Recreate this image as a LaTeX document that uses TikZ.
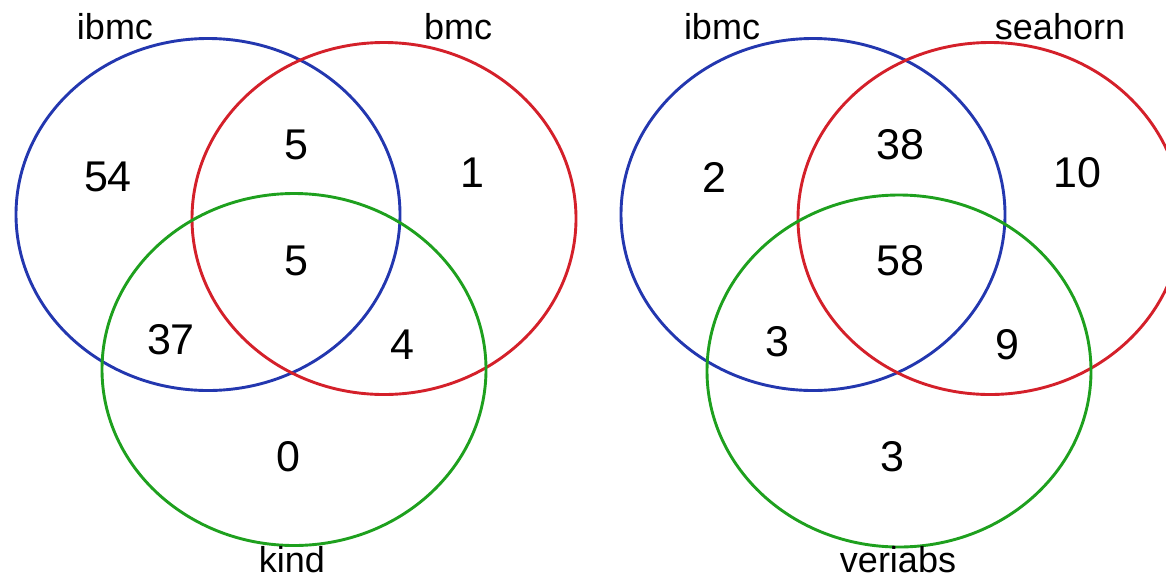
\documentclass[tikz,border=0pt]{standalone}
\usepackage{fontspec}
\setmainfont{Liberation Sans}
\usetikzlibrary{shapes.geometric}
\definecolor{setblue}{RGB}{35,55,175}
\definecolor{setred}{RGB}{212,32,42}
\definecolor{setgreen}{RGB}{30,160,30}
\tikzset{
set/.style={ellipse, draw=#1, line width=2.9pt, inner sep=0pt, outer sep=0pt, minimum width=384pt, minimum height=352pt},
count/.style={inner sep=0pt, font=\fontsize{43}{43}\selectfont},
setname/.style={inner sep=0pt, font=\fontsize{36}{36}\selectfont},
}

\begin{document}
\begin{tikzpicture}[x=1pt, y=-1pt]
%% the page is 1166 x 581, origin in the top left corner
\useasboundingbox (0,0) rectangle (1166,581);

%% ---- ibmc / bmc / kind ----
\begin{scope}
  \node[set=setblue]  (ibmcA) at (208,214.5) {};
  \node[set=setred]   (bmcA)  at (384,218.5) {};
  \node[set=setgreen] (kindA) at (294,369.5) {};
  \node[setname] (ibmcAname) at (115,27)  {ibmc};
  \node[setname] (bmcAname)  at (458,27)  {bmc};
  \node[setname] (kindAname) at (292,560) {kind};
  \node[count] (onlyIA) at (108,177) {54};
  \node[count] (ibA)    at (296,145) {5};
  \node[count] (onlyBA) at (472,173) {1};
  \node[count] (allA)   at (296,261) {5};
  \node[count] (ikA)    at (171,340) {37};
  \node[count] (bkA)    at (402,345) {4};
  \node[count] (onlyKA) at (288,457) {0};
\end{scope}

%% ---- ibmc / seahorn / veriabs ----
\begin{scope}[xshift=605pt]
  \node[set=setblue]  (ibmcB)    at (208,214.5) {};
  \node[set=setred]   (seahornB) at (385,218.5) {};
  \node[set=setgreen] (veriabsB) at (294,371) {};
  \node[setname] (ibmcBname)    at (117,27)  {ibmc};
  \node[setname] (seahornBname) at (455,27)  {seahorn};
  \node[setname] (veriabsBname) at (293,560) {veriabs};
  \node[count] (onlyIB) at (109,177) {2};
  \node[count] (isB)    at (295,145) {38};
  \node[count] (onlySB) at (472,173) {10};
  \node[count] (allB)   at (295,261) {58};
  \node[count] (ivB)    at (172,342) {3};
  \node[count] (svB)    at (402,345) {9};
  \node[count] (onlyVB) at (287,457) {3};
\end{scope}
\end{tikzpicture}
\end{document}
